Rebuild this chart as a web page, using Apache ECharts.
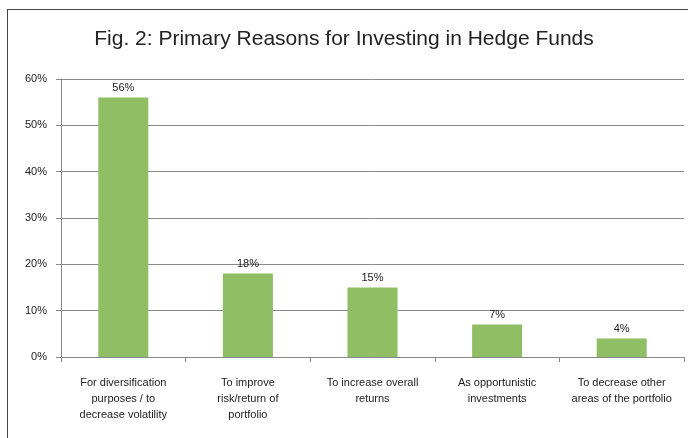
<!DOCTYPE html>
<html>
<head>
<meta charset="utf-8">
<script src="https://cdn.jsdelivr.net/npm/echarts@6/dist/echarts.min.js"></script>
<style>
  html, body { margin: 0; padding: 0; background: #fff; }
  #frame { position: absolute; left: 7px; top: 9px; width: 690px; height: 440px;
           border-top: 1px solid #444; border-left: 1px solid #444; }
  #main { position: absolute; left: 0; top: 0; width: 688px; height: 438px; }
</style>
</head>
<body>
<div id="frame"></div>
<div id="main"></div>
<script>
// data
const categories = [
  'For diversification\npurposes / to\ndecrease volatility',
  'To improve\nrisk/return of\nportfolio',
  'To increase overall\nreturns',
  'As opportunistic\ninvestments',
  'To decrease other\nareas of the portfolio'
];
const shares = [56, 18, 15, 7, 4];

const myChart = echarts.init(document.getElementById('main'));

const option = {
  animation: false,
  title: {
    text: 'Fig. 2: Primary Reasons for Investing in Hedge Funds',
    left: 'center',
    top: 24,
    textStyle: { fontFamily: 'Liberation Sans', fontSize: 21, fontWeight: 'normal', color: '#222' }
  },
  grid: { left: 61, right: 4, top: 79, bottom: 81 },
  xAxis: {
    type: 'category',
    data: categories,
    axisLine: { lineStyle: { color: '#888' } },
    axisTick: { show: true, length: 5, lineStyle: { color: '#888' } },
    axisLabel: {
      interval: 0, margin: 18, lineHeight: 16,
      fontFamily: 'Liberation Sans', fontSize: 11, color: '#222'
    }
  },
  yAxis: {
    type: 'value',
    min: 0, max: 60, interval: 10,
    axisLine: { show: true, lineStyle: { color: '#888' } },
    axisTick: { show: true, length: 5, lineStyle: { color: '#888' } },
    splitLine: { lineStyle: { color: '#8a8a8a' } },
    axisLabel: {
      formatter: '{value}%', margin: 14,
      fontFamily: 'Liberation Sans', fontSize: 11, color: '#222'
    }
  },
  series: [
    {
      name: 'Share', type: 'bar', data: shares,
      barWidth: 50,
      itemStyle: { color: '#8fbe65' },
      label: {
        show: true, position: 'top', distance: 4, formatter: '{c}%',
        fontFamily: 'Liberation Sans', fontSize: 11, color: '#222'
      }
    }
  ]
};

myChart.setOption(option);
</script>
</body>
</html>
